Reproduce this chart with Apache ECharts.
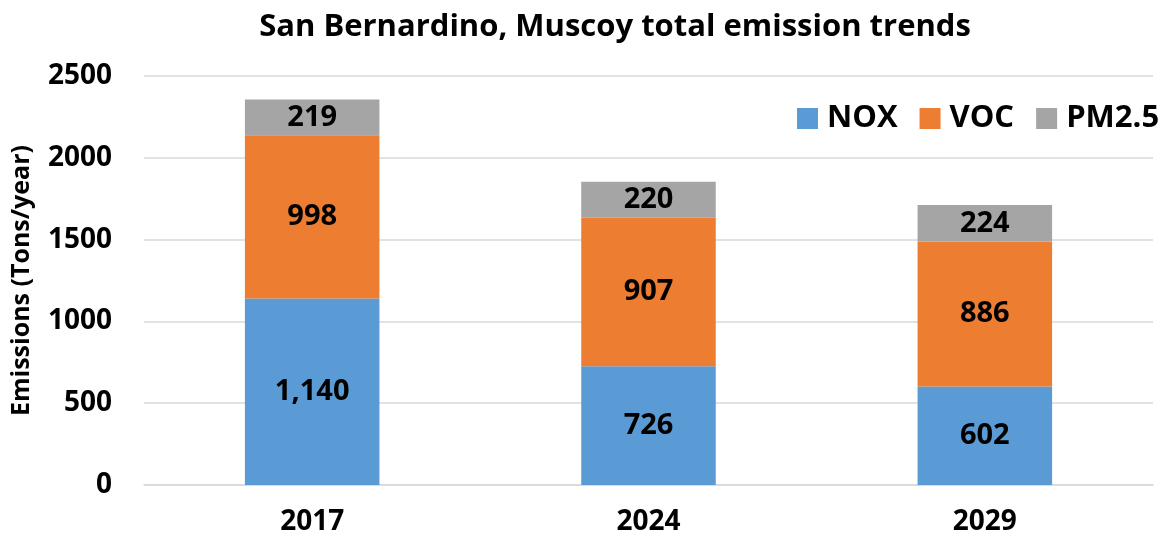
<!DOCTYPE html>
<html><head><meta charset="utf-8">
<script src="https://cdn.jsdelivr.net/npm/echarts@6/dist/echarts.min.js"></script>
<style>html,body{margin:0;padding:0;background:#fff}#c{width:1174px;height:537px}</style>
</head><body><div id="c"></div>
<script>
const categories = ['2017', '2024', '2029'];
const nox = [1140, 726, 602];
const voc = [998, 907, 886];
const pm25 = [219, 220, 224];
const yTicks = [0, 500, 1000, 1500, 2000, 2500];

const FONT = '"Open Sans", sans-serif';
const fmt = p => Number(p.value).toLocaleString('en-US');
function series(name, data, color) {
  return {
    name, type: 'bar', stack: 'total', data, barWidth: '40%',
    itemStyle: { color },
    label: { show: true, position: 'inside', formatter: fmt, color: '#000', fontSize: 29, fontWeight: 'bold', fontFamily: FONT }
  };
}
const chart = echarts.init(document.getElementById('c'));
chart.setOption({
  animation: false,
  title: { text: 'San Bernardino, Muscoy total emission trends', left: 610, textAlign: 'center', top: 7,
    textStyle: { fontSize: 31, fontWeight: 'bold', color: '#000', fontFamily: FONT } },
  legend: { left: 797, top: 103, width: 500, padding: 0, itemWidth: 21, itemHeight: 21, itemGap: 22, icon: 'rect',
    textStyle: { fontSize: 31, fontWeight: 'bold', color: '#000', fontFamily: FONT, padding: [0, 0, 0, 4] } },
  grid: { left: 144, right: 21, top: 76, bottom: 52, containLabel: false, outerBoundsMode: 'none' },
  xAxis: { type: 'category', data: categories,
    axisLine: { lineStyle: { color: '#D9D9D9', width: 1.5 } }, axisTick: { show: false },
    axisLabel: { fontSize: 28, fontWeight: 'bold', color: '#000', fontFamily: FONT, margin: 23 } },
  yAxis: { type: 'value', min: yTicks[0], max: yTicks[yTicks.length - 1], interval: 500,
    name: 'Emissions (Tons/year)', nameLocation: 'middle', nameGap: 110, nameRotate: 90,
    nameTextStyle: { fontSize: 25, fontWeight: 'bold', color: '#000', fontFamily: FONT },
    splitLine: { lineStyle: { color: '#D9D9D9', width: 1.5 } },
    axisLabel: { fontSize: 28, fontWeight: 'bold', color: '#000', fontFamily: FONT, margin: 32, formatter: v => String(v) } },
  series: [series('NOX', nox, '#5B9BD5'), series('VOC', voc, '#ED7D31'), series('PM2.5', pm25, '#A5A5A5')]
});
</script></body></html>
